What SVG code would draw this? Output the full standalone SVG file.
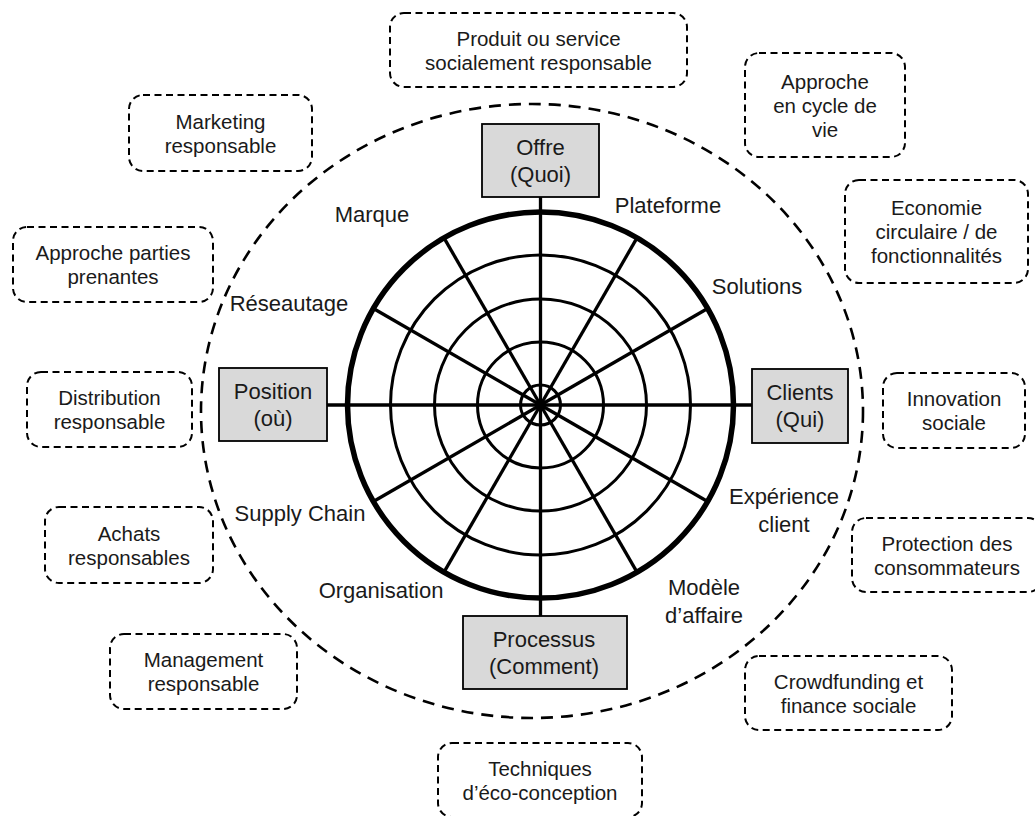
<svg xmlns="http://www.w3.org/2000/svg" width="1035" height="816" viewBox="0 0 1035 816">
  <style>
    .bg { fill: #ffffff; }
    .txt { font-family: "Liberation Sans", Arial, sans-serif; fill: #1a1a1a; text-anchor: middle; }
    .note { font-size: 20.5px; }
    .lbl { font-size: 22px; }
    .dash-box { fill: none; stroke: #000; stroke-width: 2; stroke-dasharray: 7 4.5; }
    .core-box { fill: #d9d9d9; stroke: #000; stroke-width: 1.8; }
    .ring { fill: none; stroke: #000; stroke-width: 3; }
    .spoke { stroke: #000; stroke-width: 3.3; stroke-linecap: butt; }
    .outer-ring { fill: none; stroke: #000; stroke-width: 5.5; }
    .halo { fill: none; stroke: #000; stroke-width: 2.6; stroke-dasharray: 12 8; }
  </style>

  <rect class="bg" x="0" y="0" width="1035" height="816"/>

  <!-- dashed boundary ellipse -->
  <ellipse id="boundary" class="halo" cx="532" cy="411" rx="331" ry="307"/>

  <!-- wheel: rings and spokes -->
  <g id="connectors">
    <line class="spoke" x1="540.5" y1="197" x2="540.5" y2="616"/>
    <line class="spoke" x1="327" y1="405" x2="752" y2="405"/>
    <g transform="translate(540.5 405)">
      <line class="spoke" x1="0" y1="0" x2="96.5" y2="-167.1"/>
      <line class="spoke" x1="0" y1="0" x2="167.1" y2="-96.5"/>
      <line class="spoke" x1="0" y1="0" x2="167.1" y2="96.5"/>
      <line class="spoke" x1="0" y1="0" x2="96.5" y2="167.1"/>
      <line class="spoke" x1="0" y1="0" x2="-96.5" y2="167.1"/>
      <line class="spoke" x1="0" y1="0" x2="-167.1" y2="96.5"/>
      <line class="spoke" x1="0" y1="0" x2="-167.1" y2="-96.5"/>
      <line class="spoke" x1="0" y1="0" x2="-96.5" y2="-167.1"/>
      <circle class="ring" cx="0" cy="0" r="20"/>
      <circle class="ring" cx="0" cy="0" r="63"/>
      <circle class="ring" cx="0" cy="0" r="106"/>
      <circle class="ring" cx="0" cy="0" r="150"/>
      <circle class="outer-ring" cx="0" cy="0" r="193"/>
    </g>
  </g>

  <!-- core dimensions -->
  <g id="offre">
    <rect class="core-box" x="482" y="124" width="117" height="73"/>
    <text class="txt lbl" x="540.5" y="155">Offre</text>
    <text class="txt lbl" x="540.5" y="182">(Quoi)</text>
  </g>
  <g id="position">
    <rect class="core-box" x="219" y="368" width="108" height="73"/>
    <text class="txt lbl" x="273" y="399">Position</text>
    <text class="txt lbl" x="273" y="426">(où)</text>
  </g>
  <g id="clients">
    <rect class="core-box" x="752" y="369" width="96" height="74"/>
    <text class="txt lbl" x="800" y="400">Clients</text>
    <text class="txt lbl" x="800" y="427">(Qui)</text>
  </g>
  <g id="processus">
    <rect class="core-box" x="463" y="616" width="164" height="73"/>
    <text class="txt lbl" x="544" y="647">Processus</text>
    <text class="txt lbl" x="544" y="674">(Comment)</text>
  </g>

  <!-- sector labels -->
  <g id="sector-labels" class="txt lbl">
    <text x="372" y="222">Marque</text>
    <text x="668" y="213">Plateforme</text>
    <text x="289" y="311">Réseautage</text>
    <text x="757" y="294">Solutions</text>
    <text x="784" y="504">Expérience</text>
    <text x="784" y="532">client</text>
    <text x="300" y="521">Supply Chain</text>
    <text x="381" y="598">Organisation</text>
    <text x="704" y="595">Modèle</text>
    <text x="704" y="623">d’affaire</text>
  </g>

  <!-- surrounding practices -->
  <g id="produit">
    <rect class="dash-box" x="390" y="13" width="297" height="74" rx="14"/>
    <text class="txt note" x="538.5" y="46">Produit ou service</text>
    <text class="txt note" x="538.5" y="70">socialement responsable</text>
  </g>
  <g id="marketing">
    <rect class="dash-box" x="129" y="95" width="183" height="76" rx="14"/>
    <text class="txt note" x="220.5" y="129">Marketing</text>
    <text class="txt note" x="220.5" y="153">responsable</text>
  </g>
  <g id="parties-prenantes">
    <rect class="dash-box" x="13" y="227" width="200" height="75" rx="14"/>
    <text class="txt note" x="113" y="260">Approche parties</text>
    <text class="txt note" x="113" y="284">prenantes</text>
  </g>
  <g id="cycle-de-vie">
    <rect class="dash-box" x="745" y="53" width="160" height="104" rx="14"/>
    <text class="txt note" x="825" y="89">Approche</text>
    <text class="txt note" x="825" y="113">en cycle de</text>
    <text class="txt note" x="825" y="137">vie</text>
  </g>
  <g id="economie">
    <rect class="dash-box" x="845" y="180" width="183" height="103" rx="14"/>
    <text class="txt note" x="936.5" y="215">Economie</text>
    <text class="txt note" x="936.5" y="239">circulaire / de</text>
    <text class="txt note" x="936.5" y="263">fonctionnalités</text>
  </g>
  <g id="distribution">
    <rect class="dash-box" x="27" y="372" width="165" height="75" rx="14"/>
    <text class="txt note" x="109.5" y="405">Distribution</text>
    <text class="txt note" x="109.5" y="429">responsable</text>
  </g>
  <g id="achats">
    <rect class="dash-box" x="45" y="507" width="168" height="76" rx="14"/>
    <text class="txt note" x="129" y="541">Achats</text>
    <text class="txt note" x="129" y="565">responsables</text>
  </g>
  <g id="management">
    <rect class="dash-box" x="110" y="634" width="187" height="75" rx="14"/>
    <text class="txt note" x="203.5" y="667">Management</text>
    <text class="txt note" x="203.5" y="691">responsable</text>
  </g>
  <g id="innovation">
    <rect class="dash-box" x="883" y="373" width="142" height="75" rx="14"/>
    <text class="txt note" x="954" y="406">Innovation</text>
    <text class="txt note" x="954" y="430">sociale</text>
  </g>
  <g id="protection">
    <rect class="dash-box" x="852" y="518" width="190" height="74" rx="14"/>
    <text class="txt note" x="947" y="551">Protection des</text>
    <text class="txt note" x="947" y="575">consommateurs</text>
  </g>
  <g id="crowdfunding">
    <rect class="dash-box" x="745" y="656" width="207" height="74" rx="14"/>
    <text class="txt note" x="848.5" y="689">Crowdfunding et</text>
    <text class="txt note" x="848.5" y="713">finance sociale</text>
  </g>
  <g id="eco-conception">
    <rect class="dash-box" x="438" y="743" width="204" height="74" rx="14"/>
    <text class="txt note" x="540" y="776">Techniques</text>
    <text class="txt note" x="540" y="800">d’éco-conception</text>
  </g>
</svg>
